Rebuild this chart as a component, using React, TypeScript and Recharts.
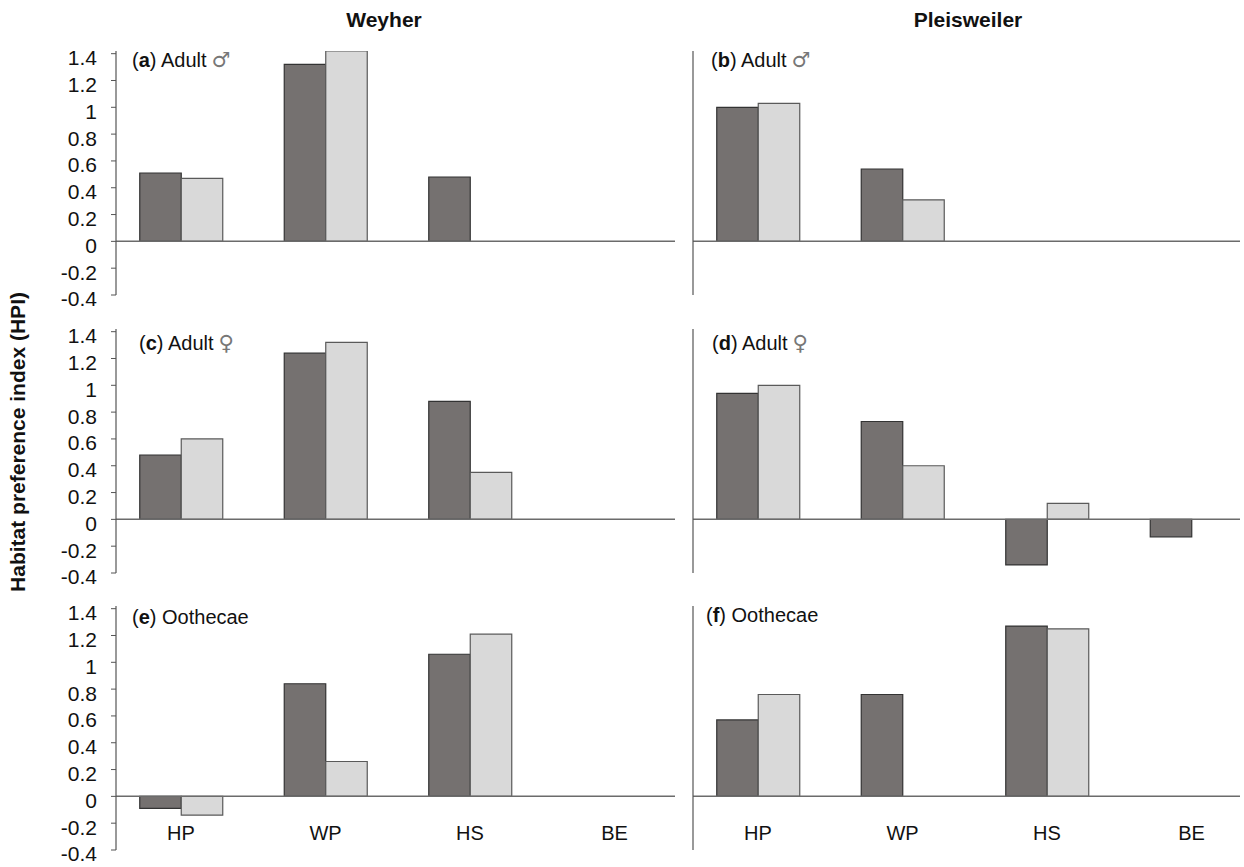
import { BarChart, Bar, XAxis, YAxis, ReferenceLine } from 'recharts'

const categories = ['HP', 'WP', 'HS', 'BE']
const yTicks = [-0.4, -0.2, 0, 0.2, 0.4, 0.6, 0.8, 1, 1.2, 1.4]

// dark = first bar of each pair, light = second bar
const weyherMaleDark = [0.51, 1.32, 0.48, null]
const weyherMaleLight = [0.47, 1.42, null, null]
const pleisMaleDark = [1.0, 0.54, null, null]
const pleisMaleLight = [1.03, 0.31, null, null]

const weyherFemaleDark = [0.48, 1.24, 0.88, null]
const weyherFemaleLight = [0.6, 1.32, 0.35, null]
const pleisFemaleDark = [0.94, 0.73, -0.34, -0.13]
const pleisFemaleLight = [1.0, 0.4, 0.12, null]

const weyherOothecaeDark = [-0.09, 0.84, 1.06, null]
const weyherOothecaeLight = [-0.14, 0.26, 1.21, null]
const pleisOothecaeDark = [0.57, 0.76, 1.27, null]
const pleisOothecaeLight = [0.76, null, 1.25, null]

const FONT = '"Liberation Sans", Arial, sans-serif'
const DARK_FILL = '#757170'
const LIGHT_FILL = '#d9d9d9'

const ValueTick = (props: any) => {
  const { x, y, payload } = props
  return (
    <text x={x} y={y + 4} dy="0.355em" textAnchor="end" fontSize={21} fontFamily={FONT} fill="#111">
      {payload.value}
    </text>
  )
}

const CategoryTick = (props: any) => {
  const { x, y, payload } = props
  return (
    <text x={x} y={y - 17} dy="0.355em" textAnchor="middle" fontSize={20} fontFamily={FONT} fill="#111">
      {payload.value}
    </text>
  )
}

interface PanelProps {
  dark: (number | null)[]
  light: (number | null)[]
  left: number
  top: number
  width: number
  padRight: number
  showValues: boolean
  showCategories: boolean
}

function Panel({ dark, light, left, top, width, padRight, showValues, showCategories }: PanelProps) {
  const data = categories.map((c, i) => ({ cat: c, dark: dark[i], light: light[i] }))
  return (
    <div style={{ position: 'absolute', left, top }}>
      <BarChart
        width={width}
        height={270}
        data={data}
        margin={{ top: 10, right: 0, bottom: showCategories ? 0 : 16, left: 0 }}
        barGap={0}
        barSize={41.5}
      >
        <XAxis
          dataKey="cat"
          hide={!showCategories}
          height={16}
          axisLine={false}
          tickLine={false}
          tickSize={0}
          tickMargin={0}
          interval={0}
          padding={{ left: -7.25, right: padRight }}
          tick={<CategoryTick />}
        />
        <YAxis
          type="number"
          domain={[-0.4, 1.42]}
          ticks={yTicks}
          interval={0}
          allowDataOverflow
          width={116}
          tickSize={5}
          tickMargin={14}
          axisLine={{ stroke: '#555', strokeWidth: 1.2 }}
          tickLine={{ stroke: '#555', strokeWidth: 1 }}
          tick={showValues ? <ValueTick /> : false}
        />
        <ReferenceLine y={0} stroke="#6b6b6b" strokeWidth={1.5} />
        <Bar dataKey="dark" fill={DARK_FILL} stroke="#333" strokeWidth={1.2} isAnimationActive={false} />
        <Bar dataKey="light" fill={LIGHT_FILL} stroke="#5a5a5a" strokeWidth={1.2} isAnimationActive={false} />
      </BarChart>
    </div>
  )
}

function PanelLabel({ x, y, letter, text, symbol }: { x: number; y: number; letter: string; text: string; symbol?: string }) {
  return (
    <text x={x} y={y} fontSize={20} fontFamily={FONT} fill="#111">
      (<tspan fontWeight="bold">{letter}</tspan>) {text}
      {symbol && (
        <tspan fill="#777" fontFamily='"DejaVu Sans", sans-serif' fontSize={21} dx={5}>
          {symbol}
        </tspan>
      )}
    </text>
  )
}

export default function App() {
  const rows = [40.6, 318.8, 596.3]
  return (
    <div style={{ position: 'absolute', left: 0, top: 0, width: 1240, height: 867, background: '#fff', overflow: 'hidden' }}>
      <Panel dark={weyherMaleDark} light={weyherMaleLight} left={0} top={rows[0]} width={675} padRight={-11.75} showValues showCategories={false} />
      <Panel dark={pleisMaleDark} light={pleisMaleLight} left={577} top={rows[0]} width={663} padRight={-23.75} showValues={false} showCategories={false} />
      <Panel dark={weyherFemaleDark} light={weyherFemaleLight} left={0} top={rows[1]} width={675} padRight={-11.75} showValues showCategories={false} />
      <Panel dark={pleisFemaleDark} light={pleisFemaleLight} left={577} top={rows[1]} width={663} padRight={-23.75} showValues={false} showCategories={false} />
      <Panel dark={weyherOothecaeDark} light={weyherOothecaeLight} left={0} top={rows[2]} width={675} padRight={-11.75} showValues showCategories />
      <Panel dark={pleisOothecaeDark} light={pleisOothecaeLight} left={577} top={rows[2]} width={663} padRight={-23.75} showValues={false} showCategories />

      <svg width={1240} height={867} style={{ position: 'absolute', left: 0, top: 0, pointerEvents: 'none' }}>
        <text x={384} y={27} textAnchor="middle" fontSize={21} fontWeight="bold" fontFamily={FONT} fill="#111">
          Weyher
        </text>
        <text x={968} y={27} textAnchor="middle" fontSize={21} fontWeight="bold" fontFamily={FONT} fill="#111">
          Pleisweiler
        </text>
        <text
          x={0}
          y={0}
          transform="translate(25, 442) rotate(-90)"
          textAnchor="middle"
          fontSize={21}
          fontWeight="bold"
          fontFamily={FONT}
          fill="#111"
        >
          Habitat preference index (HPI)
        </text>
        <PanelLabel x={132} y={67} letter="a" text="Adult" symbol="♂" />
        <PanelLabel x={711} y={67} letter="b" text="Adult" symbol="♂" />
        <PanelLabel x={139} y={350} letter="c" text="Adult" symbol="♀" />
        <PanelLabel x={712} y={350} letter="d" text="Adult" symbol="♀" />
        <PanelLabel x={132} y={624} letter="e" text="Oothecae" />
        <PanelLabel x={706} y={622} letter="f" text="Oothecae" />
      </svg>
    </div>
  )
}
